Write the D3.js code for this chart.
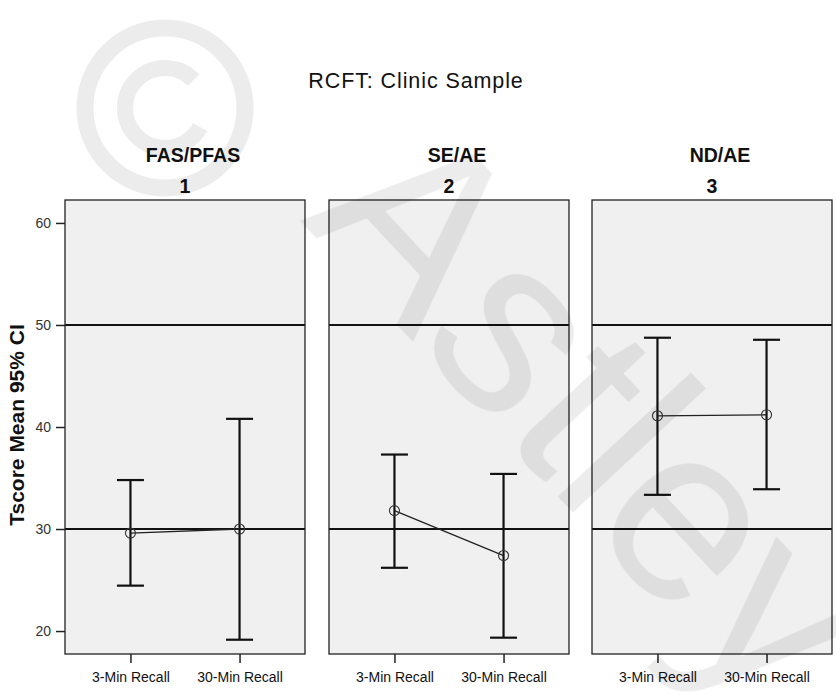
<!DOCTYPE html>
<html>
<head>
<meta charset="utf-8">
<script src="https://cdn.jsdelivr.net/npm/d3@7"></script>
<style>
  body { margin: 0; background: #fff; }
  text { font-family: "Liberation Sans", Arial, sans-serif; }
</style>
</head>
<body>
<script>
var w = 836;
var h = 692;

// groups (panels)
var groups = ["FAS/PFAS", "SE/AE", "ND/AE"];
var groupNums = ["1", "2", "3"];
var conditions = ["3-Min Recall", "30-Min Recall"];

// mean and 95% CI per group, per condition
var means = [[29.6, 30.0], [31.8, 27.4], [41.1, 41.2]];
var lower = [[24.45, 19.15], [26.2, 19.35], [33.35, 33.9]];
var upper = [[34.8, 40.8], [37.3, 35.4], [48.75, 48.55]];

var yTicks = [20, 30, 40, 50, 60];
var refLines = [30, 50];

var plotTop = 200, plotBottom = 654;
var panelLeft = [65, 329, 592];
var panelW = 240;

var svg = d3.select("body").append("svg")
  .attr("width", w)
  .attr("height", h);

var yScale = d3.scaleLinear()
  .domain([17.75, 62.25])
  .range([plotBottom, plotTop]);

var xScale = d3.scalePoint()
  .domain(conditions)
  .range([0, panelW])
  .padding(0.6);

svg.append("text")
  .attr("x", 416).attr("y", 88)
  .attr("text-anchor", "middle")
  .attr("font-size", 21.5)
  .attr("letter-spacing", 0.9)
  .attr("fill", "#111")
  .text("RCFT: Clinic Sample");

svg.append("text")
  .attr("transform", "translate(23.5,425) rotate(-90)")
  .attr("text-anchor", "middle")
  .attr("font-size", 21)
  .attr("font-weight", "bold")
  .attr("fill", "#111")
  .text("Tscore Mean 95% CI");

// y axis
var yAxis = d3.axisLeft(yScale).tickValues(yTicks).tickSize(9).tickSizeOuter(0).tickPadding(5);
var ya = svg.append("g").attr("transform", "translate(" + panelLeft[0] + ",0)").call(yAxis);
ya.select(".domain").remove();
ya.selectAll("line").attr("stroke", "#222").attr("stroke-width", 1.5);
ya.selectAll("text").attr("font-size", 14).attr("fill", "#333")
  .attr("font-family", "Liberation Sans, Arial, sans-serif");

groups.forEach(function(g, gi) {
  var p = svg.append("g").attr("transform", "translate(" + panelLeft[gi] + ",0)");

  p.append("text")
    .attr("x", panelW / 2 + 8).attr("y", 162)
    .attr("text-anchor", "middle")
    .attr("font-size", 19.5).attr("font-weight", "bold")
    .attr("fill", "#111")
    .text(g);
  p.append("text")
    .attr("x", panelW / 2).attr("y", 193)
    .attr("text-anchor", "middle")
    .attr("font-size", 19.5).attr("font-weight", "bold")
    .attr("fill", "#111")
    .text(groupNums[gi]);

  p.append("rect")
    .attr("x", 0).attr("y", plotTop)
    .attr("width", panelW).attr("height", plotBottom - plotTop)
    .attr("fill", "#f0f0f0");

  p.selectAll(".ref")
    .data(refLines)
    .enter().append("line")
    .attr("x1", 0).attr("x2", panelW)
    .attr("y1", function(d) { return yScale(d); })
    .attr("y2", function(d) { return yScale(d); })
    .attr("stroke", "#111").attr("stroke-width", 2);

  // x axis
  var xAxis = d3.axisBottom(xScale).tickSize(9).tickSizeOuter(0).tickPadding(9);
  var xa = p.append("g").attr("transform", "translate(0," + plotBottom + ")").call(xAxis);
  xa.select(".domain").remove();
  xa.selectAll("line").attr("stroke", "#222").attr("stroke-width", 1.5);
  xa.selectAll("text").attr("font-size", 14).attr("fill", "#111")
    .attr("font-family", "Liberation Sans, Arial, sans-serif");

  var rows = conditions.map(function(c, ci) {
    return { c: c, m: means[gi][ci], lo: lower[gi][ci], hi: upper[gi][ci] };
  });

  // error bars
  var eb = p.selectAll(".eb").data(rows).enter().append("g")
    .attr("stroke", "#111").attr("stroke-width", 2.2);
  eb.append("line")
    .attr("x1", function(d) { return xScale(d.c); })
    .attr("x2", function(d) { return xScale(d.c); })
    .attr("y1", function(d) { return yScale(d.lo); })
    .attr("y2", function(d) { return yScale(d.hi); });
  eb.append("line")
    .attr("x1", function(d) { return xScale(d.c) - 13.5; })
    .attr("x2", function(d) { return xScale(d.c) + 13.5; })
    .attr("y1", function(d) { return yScale(d.hi); })
    .attr("y2", function(d) { return yScale(d.hi); });
  eb.append("line")
    .attr("x1", function(d) { return xScale(d.c) - 13.5; })
    .attr("x2", function(d) { return xScale(d.c) + 13.5; })
    .attr("y1", function(d) { return yScale(d.lo); })
    .attr("y2", function(d) { return yScale(d.lo); });

  // mean line
  p.append("path")
    .datum(rows)
    .attr("fill", "none")
    .attr("stroke", "#222").attr("stroke-width", 1.3)
    .attr("d", d3.line()
      .x(function(d) { return xScale(d.c); })
      .y(function(d) { return yScale(d.m); }));

  p.selectAll(".pt").data(rows).enter().append("circle")
    .attr("cx", function(d) { return xScale(d.c); })
    .attr("cy", function(d) { return yScale(d.m); })
    .attr("r", 5)
    .attr("fill", "none")
    .attr("stroke", "#333").attr("stroke-width", 1.1);

  p.append("rect")
    .attr("x", 0).attr("y", plotTop)
    .attr("width", panelW).attr("height", plotBottom - plotTop)
    .attr("fill", "none").attr("stroke", "#222").attr("stroke-width", 1.3);
});

// watermark, drawn over everything, semi-transparent
var wm = svg.append("g").attr("fill", "#000").attr("opacity", 0.075)
  .style("pointer-events", "none");
wm.append("circle").attr("cx", 165).attr("cy", 108).attr("r", 80)
  .attr("fill", "none").attr("stroke", "#000").attr("stroke-width", 17);
wm.append("circle").attr("cx", 165).attr("cy", 108).attr("r", 40)
  .attr("fill", "none").attr("stroke", "#000").attr("stroke-width", 16)
  .attr("stroke-dasharray", "200 52").attr("stroke-dashoffset", -20);
wm.append("text")
  .attr("transform", "translate(300,220) rotate(47)")
  .attr("font-size", 250)
  .text("Astley");
</script>
</body>
</html>
